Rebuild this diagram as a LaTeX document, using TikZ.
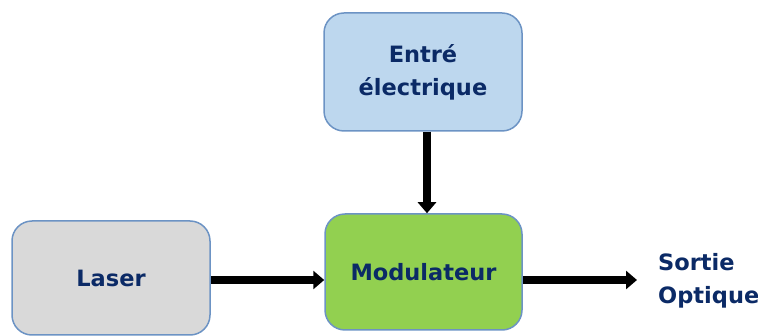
\documentclass[tikz,border=0pt]{standalone}
\usepackage{fontspec}
\setmainfont{DejaVu Sans}
\usetikzlibrary{arrows.meta}
\definecolor{txt}{HTML}{0B2A66}
\definecolor{bord}{HTML}{6C93C4}
\definecolor{bluef}{HTML}{BDD7EE}
\definecolor{grayf}{HTML}{D9D9D9}
\definecolor{greenf}{HTML}{92D050}
\tikzset{
  blk/.style={draw=bord, line width=1.5pt, rounded corners=20pt, inner sep=0pt,
    text=txt, font=\bfseries\fontsize{22.5}{33}\selectfont, align=center},
  arr/.style={line width=8pt, -{Triangle[length=11pt,width=18pt]}, black},
}
\begin{document}
\begin{tikzpicture}[x=1pt,y=-1pt]
\useasboundingbox (0,0) rectangle (758,336);
\node[blk, fill=bluef, minimum width=198pt, minimum height=118pt] (ent) at (423,72) {Entré\\électrique};
\node[blk, fill=grayf, minimum width=198pt, minimum height=114pt] (laser) at (111,278) {Laser};
\node[blk, fill=greenf, minimum width=197pt, minimum height=116pt] (mod) at (423.5,272) {Modulateur};
\coordinate (out) at (637,280);
\coordinate (vx) at (427,0);
\node[anchor=west, text=txt, font=\bfseries\fontsize{22.5}{33}\selectfont, align=left, inner sep=0pt] (sortie) at (658,281) {Sortie\\Optique};
\draw[arr] (vx |- ent.south) -- (vx |- mod.north);
\draw[arr] (laser.east |- out) -- (mod.west |- out);
\draw[arr] (mod.east |- out) -- (out);
\end{tikzpicture}
\end{document}
